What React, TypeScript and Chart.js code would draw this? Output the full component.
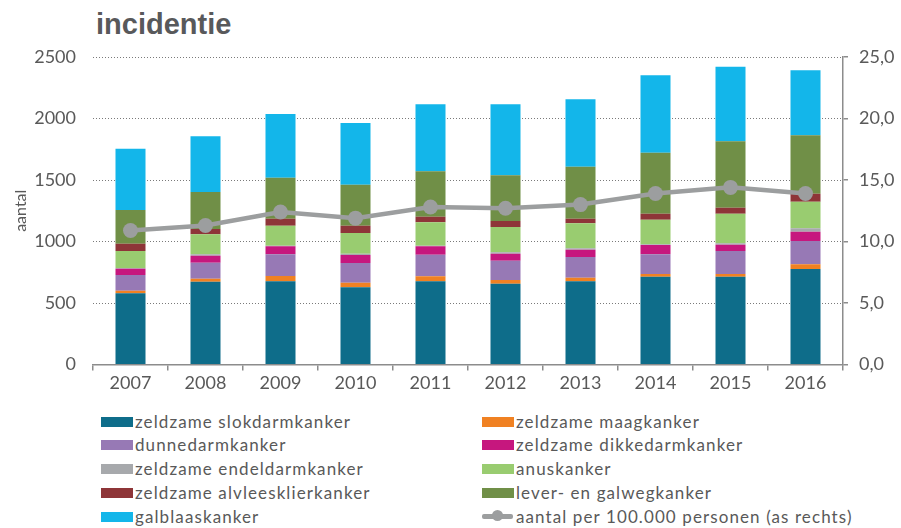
import React, { useEffect, useRef } from "react";
import { Chart, registerables } from "chart.js";

Chart.register(...registerables);

const years = ["2007", "2008", "2009", "2010", "2011", "2012", "2013", "2014", "2015", "2016"];

const slokdarm = [579, 673, 676, 628, 676, 657, 676, 714, 714, 776];
const maag = [21, 25, 44, 37, 41, 30, 30, 22, 22, 39];
const dunnedarm = [128, 130, 176, 160, 176, 157, 168, 160, 187, 189];
const dikkedarm = [51, 57, 65, 65, 68, 57, 59, 76, 51, 76];
const endeldarm = [6, 11, 5, 11, 5, 11, 12, 5, 11, 27];
const anus = [138, 163, 162, 168, 190, 206, 203, 200, 241, 217];
const alvlees = [59, 43, 57, 59, 46, 49, 37, 49, 49, 65];
const lever = [274, 300, 334, 334, 369, 371, 423, 496, 540, 474];
const galblaas = [499, 453, 517, 501, 544, 577, 548, 629, 606, 529];
const perHonderdduizend = [10.9, 11.3, 12.4, 11.9, 12.8, 12.7, 13.0, 13.9, 14.4, 13.9];

const barSeries = [
  { label: "zeldzame slokdarmkanker", data: slokdarm, color: "#0E6D8A" },
  { label: "zeldzame maagkanker", data: maag, color: "#F08122" },
  { label: "dunnedarmkanker", data: dunnedarm, color: "#9779B5" },
  { label: "zeldzame dikkedarmkanker", data: dikkedarm, color: "#C6177E" },
  { label: "zeldzame endeldarmkanker", data: endeldarm, color: "#A7A9AC" },
  { label: "anuskanker", data: anus, color: "#99CC70" },
  { label: "zeldzame alvleesklierkanker", data: alvlees, color: "#8E3538" },
  { label: "lever- en galwegkanker", data: lever, color: "#708F47" },
  { label: "galblaaskanker", data: galblaas, color: "#13B6EA" },
];
const lineLabel = "aantal per 100.000 personen (as rechts)";
const lineColor = "#9C9E9F";

const textColor = "#595959";
const axisColor = "#8C8C8C";
const FONT = "Lato, 'Noto Sans', sans-serif";

export default function App() {
  const ref = useRef<HTMLCanvasElement | null>(null);

  useEffect(() => {
    if (!ref.current) return;
    const datasets: any[] = barSeries.map((s) => ({
      type: "bar",
      label: s.label,
      data: s.data,
      backgroundColor: s.color,
      borderWidth: 0,
      yAxisID: "y",
      order: 1,
      barPercentage: 0.4,
      categoryPercentage: 1.0,
    }));
    datasets.push({
      type: "line",
      label: lineLabel,
      data: perHonderdduizend,
      borderColor: lineColor,
      backgroundColor: lineColor,
      borderWidth: 4.5,
      pointRadius: 7.5,
      pointBorderWidth: 0,
      pointBackgroundColor: lineColor,
      yAxisID: "y1",
      order: 0,
      tension: 0,
    });

    const chart = new Chart(ref.current, {
      type: "bar",
      data: { labels: years, datasets },
      options: {
        animation: false,
        responsive: false,
        devicePixelRatio: 1,
        layout: { padding: { top: 57, left: 0, right: 0, bottom: 0 } },
        plugins: { legend: { display: false }, tooltip: { enabled: false }, title: { display: false } },
        scales: {
          x: {
            stacked: true,
            offset: true,
            grid: { offset: true, drawOnChartArea: false, drawTicks: true, tickLength: 6, color: axisColor, lineWidth: 1.5 },
            border: { display: true, color: axisColor, width: 1.5 },
            ticks: { color: textColor, font: { family: FONT, size: 18 }, padding: 2 },
            afterFit: (s: any) => { s.height = 35.5; },
          },
          y: {
            position: "left",
            stacked: true,
            min: 0,
            max: 2500,
            ticks: {
              stepSize: 500,
              color: textColor,
              font: { family: FONT, size: 18 },
              padding: 17,
              callback: (v: any) => String(Math.round(Number(v))),
            },
            grid: { drawTicks: false, color: "#7A7A7A", lineWidth: 1 },
            border: { display: false, dash: [1, 2] },
            title: { display: true, text: "aantal", color: textColor, font: { family: FONT, size: 16 }, padding: { top: 11, bottom: 0 } },
            afterFit: (s: any) => { s.width = 93; },
          },
          y1: {
            position: "right",
            min: 0,
            max: 25,
            ticks: {
              stepSize: 5,
              color: textColor,
              font: { family: FONT, size: 18 },
              padding: 11,
              callback: (v: any) => Number(v).toFixed(1).replace(".", ","),
            },
            grid: { drawOnChartArea: false, drawTicks: true, tickLength: 5, color: axisColor, lineWidth: 1.5 },
            border: { display: true, color: axisColor, width: 1.5 },
            afterFit: (s: any) => { s.width = 58; },
          },
        },
      } as any,
    });
    return () => chart.destroy();
  }, []);

  const legendItems = [
    ...barSeries.map((s) => ({ label: s.label, color: s.color, line: false })),
    { label: lineLabel, color: lineColor, line: true },
  ];

  return (
    <div style={{ position: "absolute", left: 0, top: 0, width: 901, height: 528, background: "#fff", overflow: "hidden" }}>
      <div
        style={{
          position: "absolute",
          left: 96,
          top: 10,
          fontFamily: "'Liberation Sans', Arial, sans-serif",
          fontWeight: "bold",
          fontSize: 29,
          lineHeight: "29px",
          color: "#58595B",
          whiteSpace: "nowrap",
        }}
      >
        incidentie
      </div>
      <canvas ref={ref} width={901} height={400} style={{ position: "absolute", left: 0, top: 0, width: 901, height: 400 }} />
      {legendItems.map((it, i) => {
        const col = i % 2;
        const row = Math.floor(i / 2);
        const cy = 421.7 + row * 23.7;
        const sx = col === 0 ? 101 : 482;
        const tx = col === 0 ? 135 : 516;
        return (
          <React.Fragment key={i}>
            {it.line ? (
              <>
                <div style={{ position: "absolute", left: sx, top: cy - 2.5, width: 31, height: 5, background: it.color, borderRadius: 2 }} />
                <div style={{ position: "absolute", left: sx + 10, top: cy - 7, width: 11, height: 11, background: it.color, borderRadius: "50%" }} />
              </>
            ) : (
              <div style={{ position: "absolute", left: sx, top: cy - 5, width: 32, height: 10, background: it.color }} />
            )}
            <div
              style={{
                position: "absolute",
                left: tx,
                top: cy - 12,
                height: 24,
                lineHeight: "24px",
                fontFamily: FONT,
                fontSize: 17,
                letterSpacing: "1.1px",
                color: textColor,
                whiteSpace: "nowrap",
              }}
            >
              {it.label}
            </div>
          </React.Fragment>
        );
      })}
    </div>
  );
}
